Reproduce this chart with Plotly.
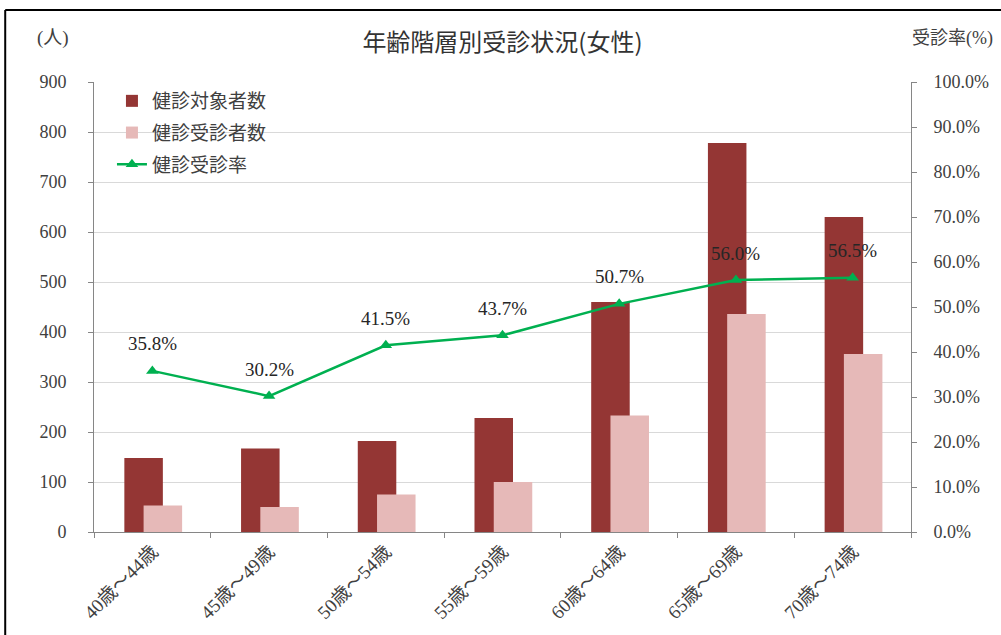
import plotly.graph_objects as go

categories = ["40歳～44歳", "45歳～49歳", "50歳～54歳", "55歳～59歳",
              "60歳～64歳", "65歳～69歳", "70歳～74歳"]
target_counts = [148, 167, 182, 228, 460, 778, 630]
examined_counts = [53, 50, 75, 100, 233, 436, 356]
exam_rates = [35.8, 30.2, 41.5, 43.7, 50.7, 56.0, 56.5]
rate_labels = ["35.8%", "30.2%", "41.5%", "43.7%", "50.7%", "56.0%", "56.5%"]

DARK = "#943634"
LIGHT = "#E6B9B8"
GREEN = "#00B050"
TEXT = "#404040"
SERIF = "Liberation Serif, Noto Sans CJK JP, serif"
SANS = "Noto Sans CJK JP, sans-serif"

W, H = 1001, 635
L, R, T, B = 94, 88, 82, 103
pw, ph = W - L - R, H - T - B

fig = go.Figure()
fig.add_trace(go.Bar(
    x=categories, y=target_counts, name="健診対象者数", legendgroup="a",
    marker=dict(color=DARK, line=dict(width=0)),
    width=0.33, offset=-0.24, yaxis="y"))
fig.add_trace(go.Bar(
    x=categories, y=examined_counts, name="健診受診者数", legendgroup="b",
    marker=dict(color=LIGHT, line=dict(width=0)),
    width=0.33, offset=-0.075, yaxis="y"))
fig.add_trace(go.Scatter(
    x=categories, y=[r / 100 for r in exam_rates], name="健診受診率",
    legendgroup="c",
    mode="lines+markers", yaxis="y2",
    line=dict(color=GREEN, width=2.5),
    marker=dict(symbol="triangle-up", size=11, color=GREEN)))

annotations = []
for c, r, lab in zip(categories, exam_rates, rate_labels):
    annotations.append(dict(
        x=c, y=r / 100, xref="x", yref="y2", text=lab, showarrow=False,
        yshift=27, font=dict(family=SERIF, size=19, color="#262626")))

annotations += [
    dict(x=(53 - L) / pw, y=1 + (T - 38) / ph, xref="paper", yref="paper",
         text="(人)", showarrow=False, xanchor="center", yanchor="middle",
         font=dict(family=SERIF, size=19, color=TEXT)),
    dict(x=(912 - L) / pw, y=1 + (T - 38) / ph, xref="paper", yref="paper",
         text="受診率(%)", showarrow=False, xanchor="left", yanchor="middle",
         font=dict(family=SERIF, size=18, color=TEXT)),
]

shapes = [
    dict(type="line", xref="paper", yref="paper",
         x0=(5 - L) / pw, x1=(W + 5 - L) / pw,
         y0=1 + (T - 10) / ph, y1=1 + (T - 10) / ph,
         line=dict(color="black", width=2)),
    dict(type="line", xref="paper", yref="paper",
         x0=(5 - L) / pw, x1=(5 - L) / pw,
         y0=1 + (T - 10) / ph, y1=-(H + 5 - (T + ph)) / ph,
         line=dict(color="black", width=2)),
]

fig.update_layout(
    width=W, height=H,
    margin=dict(l=L, r=R, t=T, b=B),
    paper_bgcolor="white", plot_bgcolor="white",
    barmode="overlay",
    title=dict(text="年齢階層別受診状況(女性)", x=0.5, xanchor="center",
               y=1 - 43 / H, yanchor="middle", xref="paper",
               font=dict(family=SANS, size=24, color="#333333")),
    xaxis=dict(
        type="category", tickangle=-45, tickson="boundaries",
        ticks="outside", ticklen=5, tickcolor="#868686",
        showline=True, linecolor="#868686", linewidth=1,
        showgrid=False, range=[-0.5, 6.5],
        tickfont=dict(family=SERIF, size=19, color=TEXT)),
    yaxis=dict(
        range=[0, 900], dtick=100, tickmode="linear",
        showgrid=True, gridcolor="#D9D9D9", gridwidth=1,
        showline=True, linecolor="#868686", linewidth=1,
        ticks="outside", ticklen=5, tickcolor="#868686",
        ticklabelstandoff=18, zeroline=False,
        tickfont=dict(family=SERIF, size=18, color=TEXT)),
    yaxis2=dict(
        overlaying="y", side="right", range=[0, 1], dtick=0.1,
        tickmode="linear", tickformat=".1%", showgrid=False,
        showline=True, linecolor="#868686", linewidth=1,
        ticks="outside", ticklen=5, tickcolor="#868686",
        ticklabelstandoff=13, zeroline=False,
        tickfont=dict(family=SERIF, size=18, color=TEXT)),
    legend=dict(
        x=(112 - L) / pw, y=1 - 0 / ph, xanchor="left", yanchor="top",
        bgcolor="rgba(0,0,0,0)", traceorder="grouped",
        font=dict(family=SANS, size=19, color=TEXT),
        itemwidth=30, tracegroupgap=4),
    annotations=annotations,
    shapes=shapes,
    showlegend=True,
)

fig.write_html("out.html",
               config={"displayModeBar": False},
               post_script="document.body.style.margin='0';"
                           "document.body.style.overflow='hidden';")
